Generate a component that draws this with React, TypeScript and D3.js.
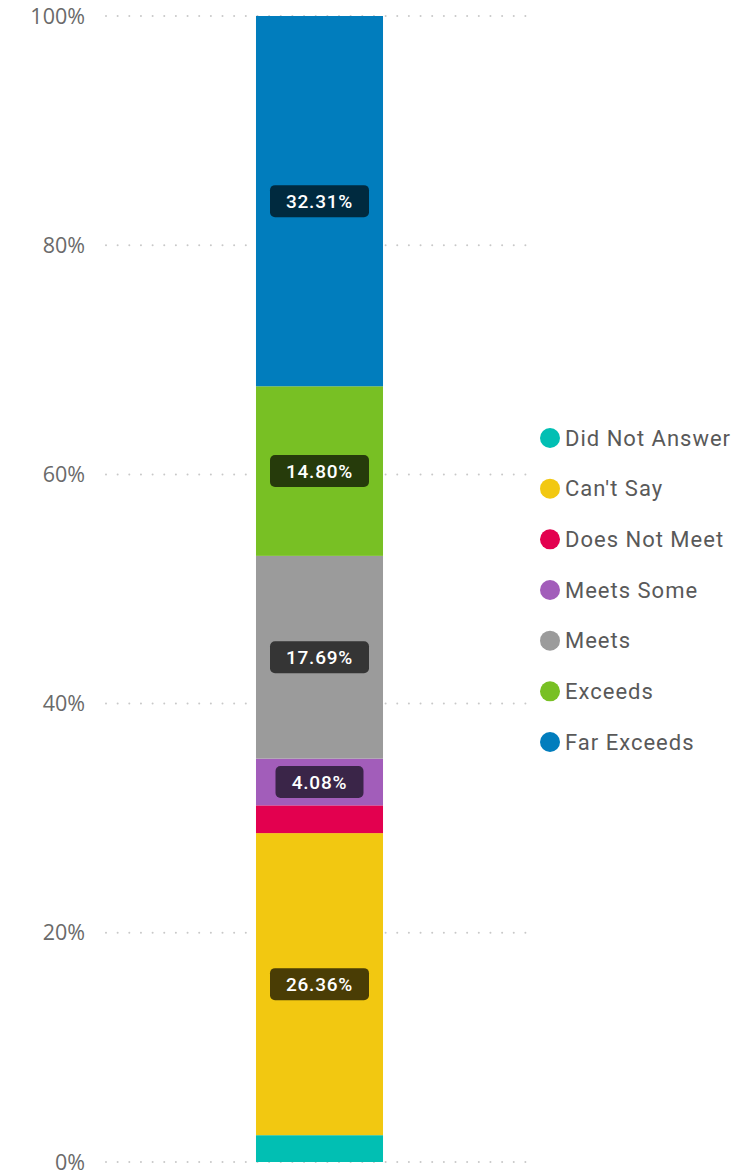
import React, { useEffect, useRef } from 'react';
import * as d3 from 'd3';

const categories = ['Did Not Answer', "Can't Say", 'Does Not Meet', 'Meets Some', 'Meets', 'Exceeds', 'Far Exceeds'];
const shares = [2.34, 26.36, 2.42, 4.08, 17.69, 14.80, 32.31];
const colors = ['#01bfb3', '#f2c811', '#e3004f', '#a25dba', '#9b9b9b', '#78c024', '#017dbd'];
const labelFills = ['#003a36', '#4a3d05', '#440018', '#3a2548', '#353535', '#263b0b', '#002a3f'];
const showLabel = [false, true, false, true, true, true, true];
const yTicks = [0, 20, 40, 60, 80, 100];

const App: React.FC = () => {
  const svgRef = useRef<SVGSVGElement>(null);

  useEffect(() => {
    if (!svgRef.current) return;
    const svg = d3.select(svgRef.current);
    svg.selectAll('*').remove();

    const width = 753;
    const height = 1173;

    const y = d3.scaleLinear().domain([0, 100]).range([1162, 16]);
    const x = d3.scaleBand().domain(['all']).range([108, 531]).paddingInner(0).paddingOuter(1.165);

    // dotted gridlines
    const grid = svg.append('g');
    yTicks.forEach(t => {
      const dots = d3.range(106, 530, 11.65);
      grid.selectAll(null)
        .data(dots)
        .enter()
        .append('circle')
        .attr('cx', d => d)
        .attr('cy', y(t))
        .attr('r', 1)
        .attr('fill', '#c8c8c8');
    });

    // y axis labels
    svg.append('g')
      .selectAll('text')
      .data(yTicks)
      .enter()
      .append('text')
      .attr('x', 85)
      .attr('y', d => y(d))
      .attr('dy', '0.35em')
      .attr('text-anchor', 'end')
      .attr('font-family', '"Open Sans", sans-serif')
      .attr('font-size', 21.5)
      .attr('fill', '#6a6a6a')
      .text(d => `${d}%`);

    // stacked segments
    const cum = d3.cumsum(shares);
    const segs = shares.map((v, i) => ({ v, i, y0: cum[i] - v, y1: cum[i] }));
    const bx = x('all')!;
    const bw = x.bandwidth();

    svg.append('g')
      .selectAll('rect')
      .data(segs)
      .enter()
      .append('rect')
      .attr('x', bx)
      .attr('width', bw)
      .attr('y', d => y(d.y1))
      .attr('height', d => y(d.y0) - y(d.y1))
      .attr('fill', d => colors[d.i]);

    // data labels
    const lbl = svg.append('g')
      .selectAll('g')
      .data(segs.filter(d => showLabel[d.i]))
      .enter()
      .append('g')
      .attr('transform', d => `translate(${bx + bw / 2},${y((d.y0 + d.y1) / 2)})`);

    lbl.append('rect')
      .attr('x', d => (d.v >= 10 ? -49.5 : -44))
      .attr('y', -16)
      .attr('width', d => (d.v >= 10 ? 99 : 88))
      .attr('height', 32)
      .attr('rx', 5)
      .attr('fill', d => labelFills[d.i]);

    lbl.append('text')
      .attr('text-anchor', 'middle')
      .attr('dy', '0.36em')
      .attr('font-family', 'Roboto, sans-serif')
      .attr('font-weight', 500)
      .attr('font-size', 19)
      .attr('letter-spacing', 0.8)
      .attr('fill', '#fff')
      .text(d => `${d.v.toFixed(2)}%`);

    // legend
    const ly = d3.scalePoint().domain(categories).range([438, 742]);
    const leg = svg.append('g')
      .selectAll('g')
      .data(categories)
      .enter()
      .append('g')
      .attr('transform', d => `translate(550,${ly(d)})`);

    leg.append('circle')
      .attr('r', 10)
      .attr('fill', (d, i) => colors[i]);

    leg.append('text')
      .attr('x', 15)
      .attr('dy', '0.35em')
      .attr('font-family', 'Roboto, sans-serif')
      .attr('font-size', 22)
      .attr('letter-spacing', 1)
      .attr('fill', '#595959')
      .text(d => d);

    svg.attr('width', width).attr('height', height);
  }, []);

  return (
    <svg ref={svgRef} width={753} height={1173} style={{ position: 'absolute', left: 0, top: 0 }} />
  );
};

export default App;
